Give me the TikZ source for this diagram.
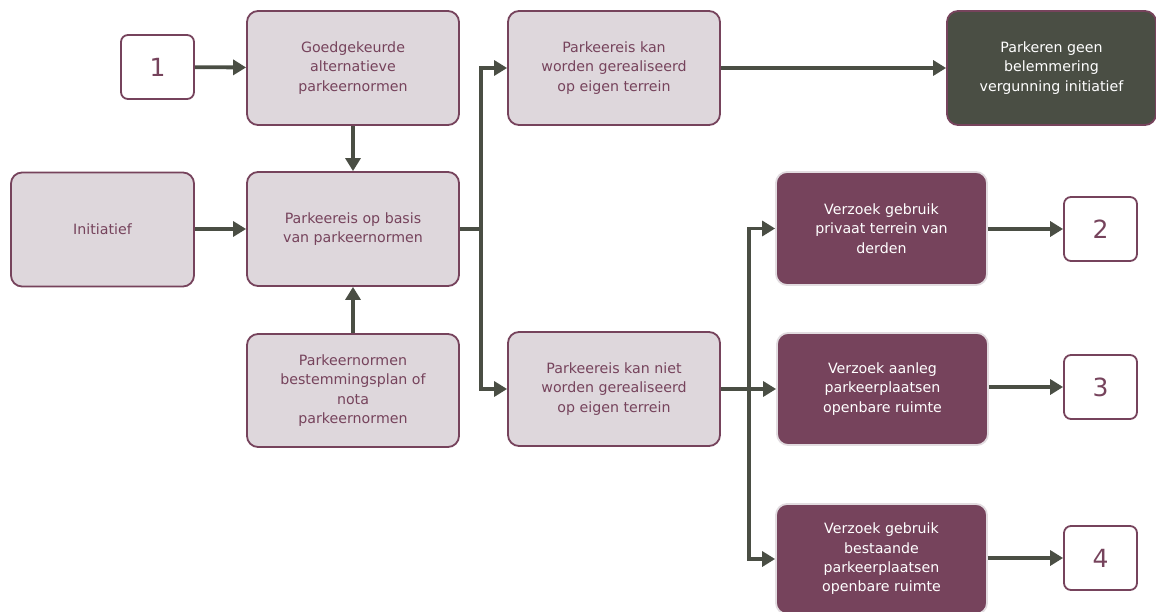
\documentclass[tikz,border=0pt]{standalone}
\usepackage{fontspec}
\setmainfont{DejaVu Sans}
\usetikzlibrary{arrows.meta}
\definecolor{paars}{HTML}{76435C}
\definecolor{lichtpaars}{HTML}{DED7DC}
\definecolor{donker}{HTML}{4A4E44}
\definecolor{randlicht}{HTML}{E2DCE0}
\tikzset{
  stap/.style={draw=paars,line width=1.8pt,rounded corners=11pt,fill=lichtpaars,
    text=paars,align=center,minimum width=212pt,minimum height=114pt,
    font=\fontsize{14.2}{19.3}\selectfont},
  eind/.style={stap,fill=donker,text=white},
  verzoek/.style={stap,draw=randlicht,fill=paars,text=white},
  nummer/.style={draw=paars,line width=1.8pt,rounded corners=7pt,fill=white,
    text=paars,minimum width=73pt,minimum height=64pt,
    font=\fontsize{25}{28}\selectfont},
  pijl/.style={draw=donker,line width=3.8pt,-{Triangle[length=13pt,width=15pt]}},
  lijn/.style={draw=donker,line width=3.8pt}
}
\begin{document}
\begin{tikzpicture}[x=1pt,y=-1pt]
\useasboundingbox (0,0) rectangle (1156,612);
% bovenste rij
\node[nummer] (een) at (157.5,67) {1};
\node[stap] (goed) at (353,68) {Goedgekeurde\\alternatieve\\parkeernormen};
\node[stap] (kan) at (614,68) {Parkeereis kan\\worden gerealiseerd\\op eigen terrein};
\node[eind,minimum width=209pt] (geen) at (1051.5,68) {Parkeren geen\\belemmering\\vergunning initiatief};
% middelste rij
\node[stap,minimum width=183pt] (init) at (102.5,229.5) {Initiatief};
\node[stap] (basis) at (353,229) {Parkeereis op basis\\van parkeernormen};
\node[verzoek,minimum width=211pt,minimum height=113pt] (privaat) at (881.5,228.5) {Verzoek gebruik\\privaat terrein van\\derden};
\node[nummer] (twee) at (1100.5,229) {2};
% onderste rij
\node[stap,minimum height=113pt] (normen) at (353,390.5) {Parkeernormen\\bestemmingsplan of\\nota\\parkeernormen};
\node[stap] (kanniet) at (614,389) {Parkeereis kan niet\\worden gerealiseerd\\op eigen terrein};
\node[verzoek,minimum width=211pt,minimum height=112pt] (aanleg) at (882.5,389) {Verzoek aanleg\\parkeerplaatsen\\openbare ruimte};
\node[nummer] (drie) at (1100.5,387) {3};
\node[verzoek,minimum width=211pt,minimum height=110pt] (bestaand) at (881.5,559) {Verzoek gebruik\\bestaande\\parkeerplaatsen\\openbare ruimte};
\node[nummer] (vier) at (1100.5,558) {4};
% verbindingen
\draw[pijl] (een) -- (goed);
\draw[pijl] (goed) -- (basis);
\draw[pijl] (normen) -- (basis);
\draw[pijl] (init.east |- basis) -- (basis);
\draw[lijn] (basis.east) -- ++(21,0) coordinate (splits1);
\draw[pijl] (splits1) |- (kan);
\draw[pijl] (splits1) |- (kanniet);
\draw[pijl] (kan) -- (geen);
\draw[lijn] (kanniet.east) -- ++(28,0) coordinate (splits2);
\draw[pijl] (splits2) |- (privaat.west);
\draw[pijl] (splits2) -- (splits2 -| aanleg.west);
\draw[pijl] (splits2) |- (bestaand.west);
\draw[pijl] (privaat.east |- twee) -- (twee);
\draw[pijl] (aanleg.east |- drie) -- (drie);
\draw[pijl] (bestaand.east |- vier) -- (vier);
\end{tikzpicture}
\end{document}
